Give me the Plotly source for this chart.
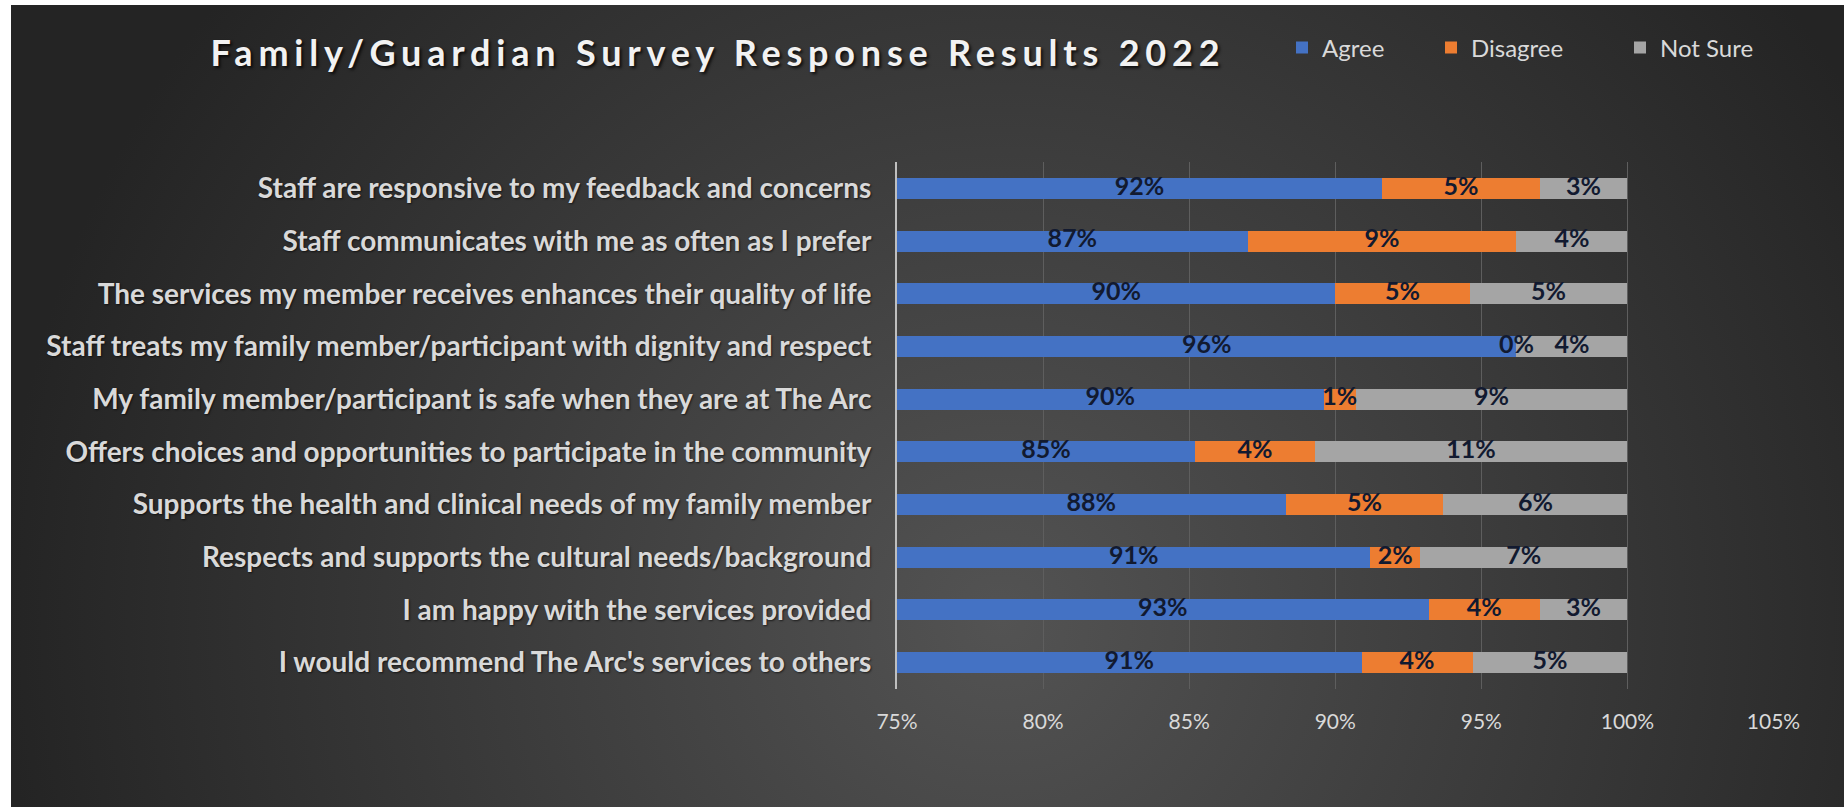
import base64
import plotly.graph_objects as go

# Survey statements, top to bottom
categories = [
    "Staff are responsive to my feedback and concerns",
    "Staff communicates with me as often as I prefer",
    "The services my member receives enhances their quality of life",
    "Staff treats my family member/participant with dignity and respect",
    "My family member/participant is safe when they are at The Arc",
    "Offers choices and opportunities to participate in the community",
    "Supports the health and clinical needs of my family member",
    "Respects and supports the cultural needs/background",
    "I am happy with the services provided",
    "I would recommend The Arc's services to others",
]

# Share of responses per statement
agree = [0.916, 0.870, 0.900, 0.962, 0.896, 0.852, 0.883, 0.912, 0.932, 0.909]
disagree = [0.054, 0.092, 0.046, 0.000, 0.011, 0.041, 0.054, 0.017, 0.038, 0.038]
not_sure = [0.030, 0.038, 0.054, 0.038, 0.093, 0.107, 0.063, 0.071, 0.030, 0.053]

series_names = ["Agree", "Disagree", "Not Sure"]
series_colors = ["#4472C4", "#ED7D31", "#A5A5A5"]

tick_values = [0.75, 0.80, 0.85, 0.90, 0.95, 1.00, 1.05]
tick_labels = ["75%", "80%", "85%", "90%", "95%", "100%", "105%"]

W, H = 1844, 807
X_MIN, X_MAX = tick_values[0], tick_values[-1]

FONT = "Lato"
LIGHT = "#d9d9d9"

fig = go.Figure()

# Stacked bars, one legend box per series
legend_ids = ["legend", "legend2", "legend3"]
for vals, name, color, lg in zip([agree, disagree, not_sure], series_names, series_colors, legend_ids):
    fig.add_trace(go.Bar(
        y=categories, x=vals, name=name, orientation="h",
        marker=dict(color=color, line=dict(width=0)),
        legend=lg, hoverinfo="skip",
    ))

# Value labels centred on the visible part of each segment
left = [0.0] * len(categories)
for vals in [agree, disagree, not_sure]:
    xs, texts = [], []
    for i, v in enumerate(vals):
        lo = max(left[i], X_MIN)
        hi = left[i] + v
        xs.append((lo + hi) / 2)
        texts.append(f"{v:.0%}")
        left[i] = hi
    fig.add_trace(go.Scatter(
        x=xs, y=categories, mode="text", text=texts,
        textposition="middle center",
        textfont=dict(family=FONT, size=25, color="#121a30", weight="bold"),
        showlegend=False, hoverinfo="skip",
    ))

# Dark radial-gradient chart panel
svg = (
    "<svg xmlns='http://www.w3.org/2000/svg' width='1833' height='802' "
    "viewBox='0 0 1833 802' preserveAspectRatio='none'>"
    "<defs><radialGradient id='g' gradientUnits='userSpaceOnUse' cx='990' cy='615' r='1000'>"
    "<stop offset='0' stop-color='#535353'/><stop offset='1' stop-color='#242424'/>"
    "</radialGradient></defs>"
    "<rect width='1833' height='802' fill='url(#g)'/></svg>"
)
bg_src = "data:image/svg+xml;base64," + base64.b64encode(svg.encode()).decode()

legend_common = dict(
    orientation="h", yanchor="middle", y=1 - 48 / H, xanchor="left",
    bgcolor="rgba(0,0,0,0)", borderwidth=0,
    font=dict(family=FONT, size=24, color=LIGHT),
)

fig.update_layout(
    width=W, height=H,
    margin=dict(l=0, r=0, t=0, b=0, autoexpand=False),
    paper_bgcolor="white",
    plot_bgcolor="rgba(0,0,0,0)",
    barmode="stack",
    bargap=0.6,
    images=[dict(
        source=bg_src, xref="paper", yref="paper",
        x=11 / W, y=1 - 5 / H, sizex=1833 / W, sizey=802 / H,
        xanchor="left", yanchor="top", sizing="stretch", layer="below",
    )],
    title=dict(
        text="<span style='letter-spacing:5.8px'>Family/Guardian Survey Response Results 2022</span>",
        x=718 / W, xanchor="center", y=1 - 53 / H, yanchor="middle",
        font=dict(family=FONT, size=36, color="#f2f2f2", weight="bold",
                  shadow="2px 2px 3px rgba(0,0,0,0.75)"),
    ),
    xaxis=dict(
        domain=[897 / W, 1773.5 / W],
        range=[X_MIN, X_MAX],
        tickvals=tick_values, ticktext=tick_labels,
        showgrid=True, gridcolor="#5e5e5e", gridwidth=1,
        zeroline=False, showline=False,
        ticks="outside", ticklen=14, tickcolor="rgba(0,0,0,0)",
        tickfont=dict(family=FONT, size=21, color=LIGHT),
        fixedrange=True,
    ),
    yaxis=dict(
        domain=[1 - 689 / H, 1 - 162 / H],
        autorange="reversed",
        showgrid=False, zeroline=False,
        showline=True, linecolor="#bfbfbf", linewidth=2,
        ticks="outside", ticklen=18, tickcolor="rgba(0,0,0,0)",
        tickfont=dict(family=FONT, size=28, color=LIGHT, weight="bold",
                      shadow="1px 1px 2px rgba(0,0,0,0.6)"),
        fixedrange=True,
    ),
    legend=dict(legend_common, x=1282 / W),
    legend2=dict(legend_common, x=1431 / W),
    legend3=dict(legend_common, x=1620 / W),
    showlegend=True,
)

fig.write_html("out.html")
